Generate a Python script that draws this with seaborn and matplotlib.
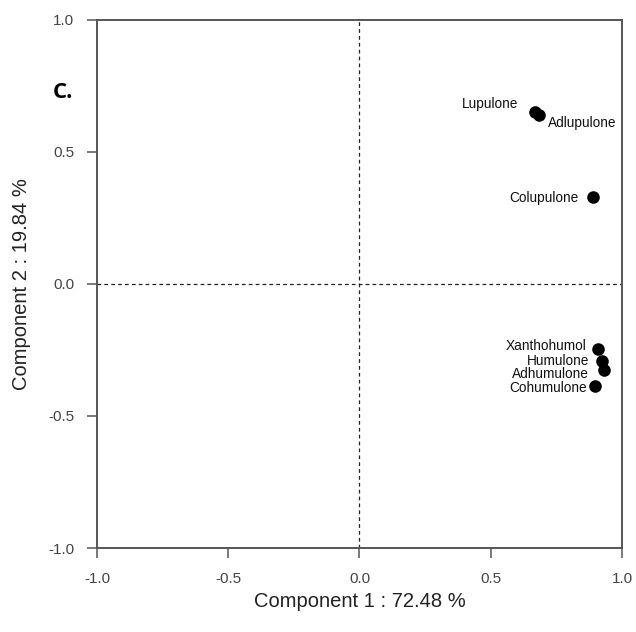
import matplotlib
matplotlib.use("Agg")
import matplotlib.pyplot as plt
import seaborn as sns
import pandas as pd

compounds = ["Lupulone", "Adlupulone", "Colupulone", "Xanthohumol", "Humulone", "Adhumulone", "Cohumulone"]
comp1 = [0.667, 0.682, 0.891, 0.907, 0.922, 0.933, 0.899]
comp2 = [0.652, 0.640, 0.330, -0.246, -0.292, -0.326, -0.386]
xlabel = "Component 1 : 72.48 %"
ylabel = "Component 2 : 19.84 %"
ticks = [-1.0, -0.5, 0.0, 0.5, 1.0]
panel = "C."

df = pd.DataFrame({"compound": compounds, "c1": comp1, "c2": comp2})

sns.set_style("white")
plt.rcParams["font.family"] = ["Liberation Sans", "DejaVu Sans"]

fig = plt.figure(figsize=(6.36, 6.32), dpi=100)
ax = fig.add_axes([0.1525, 0.1329, 0.8255, 0.8355])

ax.axhline(0, color="#222222", lw=0.9, ls=(0, (3, 2.5)), zorder=1)
ax.axvline(0, color="#222222", lw=0.9, ls=(0, (3, 2.5)), zorder=1)

sns.scatterplot(data=df, x="c1", y="c2", ax=ax, color="black", s=82,
                edgecolor="black", linewidth=0, zorder=3, legend=False)

# label offsets in points (dx, dy, ha)
offsets = {
    "Lupulone": (-11.5, 7, "right"),
    "Adlupulone": (6.5, -5, "left"),
    "Colupulone": (-10.5, 0, "right"),
    "Xanthohumol": (-8, 3, "right"),
    "Humulone": (-8.5, 1, "right"),
    "Adhumulone": (-11.5, -2, "right"),
    "Cohumulone": (-6, -0.5, "right"),
}
for name, x, y in zip(compounds, comp1, comp2):
    dx, dy, ha = offsets[name]
    ax.annotate(name, (x, y), xytext=(dx, dy), textcoords="offset points",
                ha=ha, va="center_baseline", fontsize=9.8, color="#111111")

ax.set_xlim(-1, 1)
ax.set_ylim(-1, 1)
ax.set_xticks(ticks)
ax.set_yticks(ticks)
ax.set_xticklabels([f"{t:.1f}" for t in ticks])
ax.set_yticklabels([f"{t:.1f}" for t in ticks])
ax.tick_params(direction="out", length=7.5, width=1.1, color="#555555",
               labelsize=11, labelcolor="#444444", bottom=True, left=True)
ax.tick_params(axis="x", pad=10)
ax.tick_params(axis="y", pad=9)
for sp in ax.spines.values():
    sp.set_color("#555555")
    sp.set_linewidth(1.4)
ax.set_xlabel(xlabel, fontsize=14.5, color="#222222")
ax.set_ylabel(ylabel, fontsize=14.5, color="#222222")
ax.xaxis.set_label_coords(0.5, -0.084)
ax.yaxis.set_label_coords(-0.1257, 0.5)

fig.text(53 / 636, 1 - 92 / 632, panel, fontsize=16, fontweight="bold",
         family=["Open Sans", "DejaVu Sans"], ha="left", va="center", color="black")

fig.savefig("out.png", dpi=100)
